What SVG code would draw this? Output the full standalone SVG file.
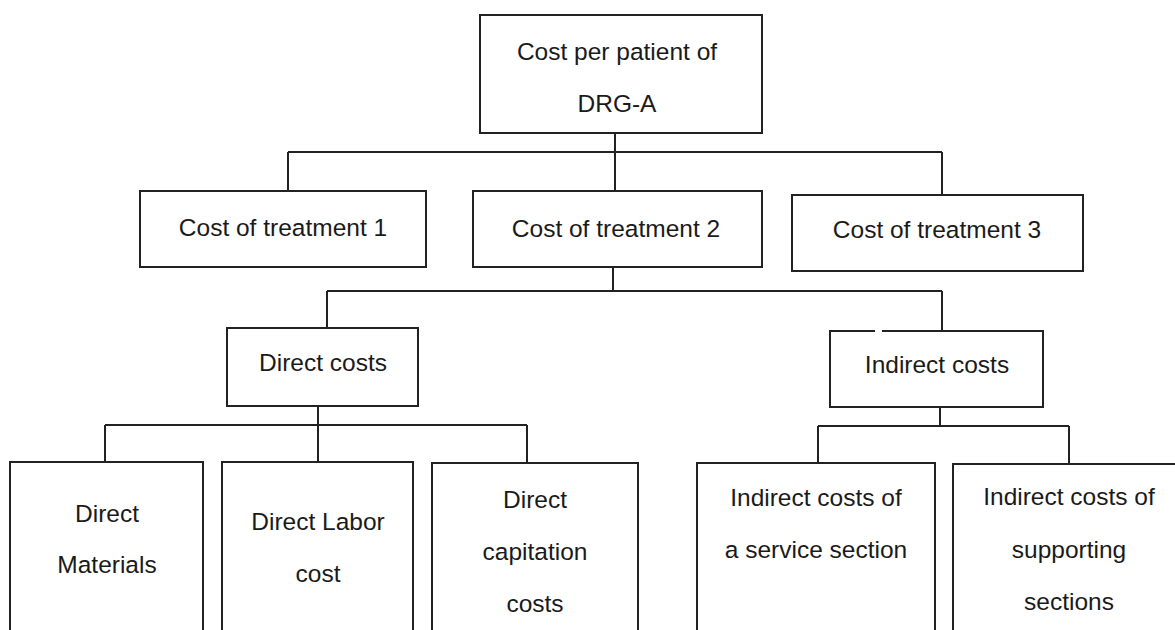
<svg xmlns="http://www.w3.org/2000/svg" width="1175" height="630" viewBox="0 0 1175 630">
<style>
.box{fill:#fff;stroke:#222;stroke-width:2}
.ln{fill:none;stroke:#222;stroke-width:2}
text{font-family:"Liberation Sans",Arial,sans-serif;font-size:24.5px;fill:#1a1a1a;text-anchor:middle}
</style>
<rect width="1175" height="630" fill="#fff"/>
<g id="connectors" class="ln">
<path d="M615 133V152M288 152H942M288 152V191M615 152V191M942 152V195"/>
<path d="M613 267V291M327 291H942M327 291V328M942 291V331"/>
<path d="M318 406V425M105 425H527M105 425V462M318 425V462M527 425V463"/>
<path d="M940 407V426M818 426H1069M818 426V463M1069 426V464"/>
</g>
<g id="root"><rect class="box" x="480" y="15" width="282" height="118"/><text x="617" y="60">Cost per patient of</text><text x="617" y="112">DRG-A</text></g>
<g id="t1"><rect class="box" x="140" y="191" width="286" height="76"/><text x="283" y="236">Cost of treatment 1</text></g>
<g id="t2"><rect class="box" x="473" y="191" width="289" height="76"/><text x="616" y="237">Cost of treatment 2</text></g>
<g id="t3"><rect class="box" x="792" y="195" width="291" height="76"/><text x="937" y="238">Cost of treatment 3</text></g>
<g id="direct"><rect class="box" x="227" y="328" width="191" height="78"/><text x="323" y="371">Direct costs</text></g>
<g id="indirect"><path class="box" d="M875 331H830V407H1043V331H882"/><text x="937" y="373">Indirect costs</text></g>
<g id="dm"><rect class="box" x="10" y="462" width="193" height="220"/><text x="107" y="522">Direct</text><text x="107" y="573">Materials</text></g>
<g id="dl"><rect class="box" x="222" y="462" width="191" height="220"/><text x="318" y="530">Direct Labor</text><text x="318" y="582">cost</text></g>
<g id="dc"><rect class="box" x="432" y="463" width="206" height="220"/><text x="535" y="508">Direct</text><text x="535" y="560">capitation</text><text x="535" y="612">costs</text></g>
<g id="is"><rect class="box" x="697" y="463" width="238" height="220"/><text x="816" y="506">Indirect costs of</text><text x="816" y="558">a service section</text></g>
<g id="isup"><rect class="box" x="953" y="464" width="260" height="220"/><text x="1069" y="505">Indirect costs of</text><text x="1069" y="558">supporting</text><text x="1069" y="610">sections</text></g>
</svg>
